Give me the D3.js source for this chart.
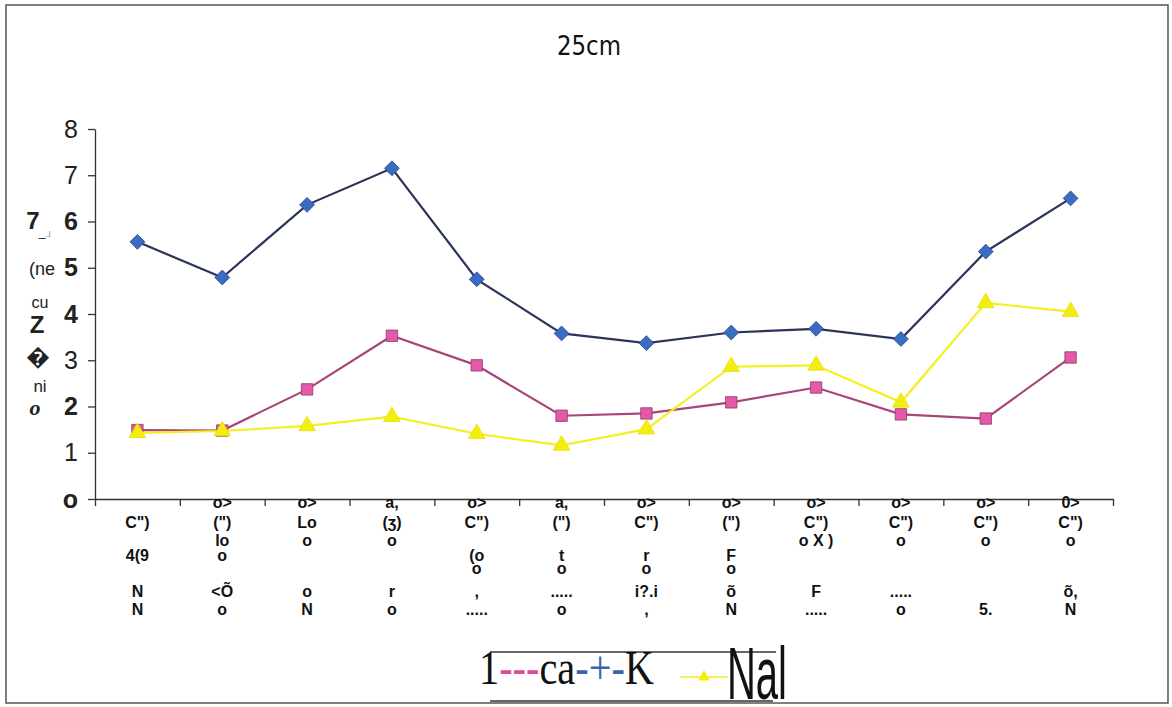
<!DOCTYPE html>
<html><head><meta charset="utf-8">
<script src="https://cdn.jsdelivr.net/npm/d3@7"></script>
<style>body{margin:0;background:#fff}svg{display:block}</style>
</head><body>
<svg id="c" width="1172" height="707"></svg>
<script>
const title = "25cm";
const categories = ["c1","c2","c3","c4","c5","c6","c7","c8","c9","c10","c11","c12"];
const xLabelRows = [
  ["", "C\")", "", "4(9", "", "N", "N"],
  ["o>", "(\")", "lo", "o", "", "<Õ", "o"],
  ["o>", "Lo", "o", "", "", "o", "N"],
  ["a,", "(ʒ)", "o", "", "", "r", "o"],
  ["o>", "C\")", "", "(o", "o", ",", "....."],
  ["a,", "(\")", "", "t", "o", ".....", "o"],
  ["o>", "C\")", "", "r", "o", "i?.i", ","],
  ["o>", "(\")", "", "F", "o", "õ", "N"],
  ["o>", "C\")", "o X )", "", "", "F", "....."],
  ["o>", "C\")", "o", "", "", ".....", "o"],
  ["o>", "C\")", "o", "", "", "", "5."],
  ["0>", "C\")", "o", "", "", "õ,", "N"]
];
const yTicks = [0,1,2,3,4,5,6,7,8];
const yTickLabels = ["o","1","2","3","4","5","6","7","8"];
const yLabelBits = ["7","_」","(ne","cu","Z","�","ni","o"];
const kValues  = [5.56,4.79,6.36,7.15,4.75,3.58,3.37,3.60,3.68,3.46,5.35,6.50];
const caValues = [1.49,1.48,2.37,3.53,2.89,1.80,1.85,2.09,2.41,1.83,1.74,3.06];
const naValues = [1.43,1.47,1.58,1.78,1.41,1.16,1.51,2.86,2.89,2.09,4.24,4.05];
const legendParts = ["1","---","ca","-+-","K"];
const legendLast = "Nal";

const svg = d3.select("#c");
svg.append("rect").attr("x",6).attr("y",5).attr("width",1162).attr("height",698)
  .attr("fill","#fff").attr("stroke","#555").attr("stroke-width",1.5);

const x0 = 95, x1 = 1113, yTop = 129, yBot = 499;
const x = d3.scaleBand().domain(categories).range([x0,x1]);
const xEdge = d3.scaleLinear().domain([0,categories.length]).range([x0,x1]);
const y = d3.scaleLinear().domain([0,8]).range([yBot,yTop]);

svg.append("text").attr("x",589).attr("y",55).attr("text-anchor","middle")
  .attr("font-family","DejaVu Sans Condensed, DejaVu Sans").attr("font-size",27)
  .attr("textLength",64).attr("lengthAdjust","spacingAndGlyphs").attr("fill","#111").text(title);

// axes
const gx = svg.append("g").attr("transform",`translate(0,${yBot})`)
  .call(d3.axisBottom(xEdge).tickValues(d3.range(0,categories.length+1)).tickSize(7).tickSizeOuter(0).tickFormat(""));
gx.select(".domain").attr("stroke","#333").attr("stroke-width",1.3);
gx.selectAll(".tick line").attr("stroke","#333").attr("stroke-width",1.3);

const gy = svg.append("g").attr("transform",`translate(${x0},0)`)
  .call(d3.axisLeft(y).tickValues(yTicks).tickSize(7).tickSizeOuter(0).tickFormat((d,i)=>yTickLabels[i]));
gy.select(".domain").attr("stroke","#333").attr("stroke-width",1.3);
gy.selectAll(".tick text").attr("x",-17).attr("font-family","Liberation Sans, Arial")
  .attr("font-size",25).attr("fill","#222")
  .attr("font-weight",(d)=> [0,2,4,5,6].includes(d) ? "bold" : "normal");
gy.selectAll(".tick line").attr("stroke","#333").attr("stroke-width",1.3);

// y label fragments
const yBitY = [229,236,275,308,333,365,392,415];
const yBitX = [33,48,42,40,37,38,40,35];
const yBitSize = [24,12,18,16,24,24,17,22];
svg.append("g").selectAll("text").data(yLabelBits).join("text")
  .attr("x",(d,i)=>yBitX[i]).attr("y",(d,i)=>yBitY[i]).attr("text-anchor","middle")
  .attr("font-family",(d,i)=> i===7 ? "Liberation Serif" : "Liberation Sans, Arial")
  .attr("font-style",(d,i)=> i===7 ? "italic":"normal")
  .attr("font-weight",(d,i)=> (i===0||i===4||i===7) ? "bold":"normal")
  .attr("font-size",(d,i)=>yBitSize[i]).attr("fill","#222").text(d=>d);

// x labels
const rowY = [508,528,546,561,574,597,615];
const gl = svg.append("g");
categories.forEach((c,ci)=>{
  xLabelRows[ci].forEach((t,ri)=>{
    if(!t) return;
    gl.append("text").attr("x",x(c)+x.bandwidth()/2).attr("y",rowY[ri]).attr("text-anchor","middle")
      .attr("font-family","Liberation Sans, Arial").attr("font-weight","bold")
      .attr("font-size",16).attr("fill","#111").text(t);
  });
});

// series
const cx = (d,i)=> x(categories[i]) + x.bandwidth()/2;
const line = d3.line().x(cx).y(d=>y(d));
const series = [
  {vals:caValues, line:"#a8457a", fill:"#e45aa8", stroke:"#8a3a66", shape:d3.symbolSquare, size:130, rot:0},
  {vals:naValues, line:"#f4f020", fill:"#f2ee10", stroke:"#e8e000", shape:d3.symbolTriangle, size:120, rot:0},
  {vals:kValues,  line:"#2a3558", fill:"#3b6cc4", stroke:"#2a4a8a", shape:d3.symbolSquare, size:110, rot:45}
];
series.forEach(s=>{
  svg.append("path").datum(s.vals).attr("d",line).attr("fill","none")
    .attr("stroke",s.line).attr("stroke-width",2.2);
  svg.append("g").selectAll("path").data(s.vals).join("path")
    .attr("transform",(d,i)=>`translate(${cx(d,i)},${y(d)}) rotate(${s.rot})`)
    .attr("d",d3.symbol().type(s.shape).size(s.size))
    .attr("fill",s.fill).attr("stroke",s.stroke).attr("stroke-width",0.8);
});

// legend
const lg = svg.append("g");
lg.append("line").attr("x1",490).attr("x2",776).attr("y1",652).attr("y2",652).attr("stroke","#333").attr("stroke-width",1.5);
lg.append("line").attr("x1",490).attr("x2",773).attr("y1",701).attr("y2",701).attr("stroke","#333").attr("stroke-width",1.5);
const partCol = ["#111","#e04a9a","#111","#3a64b0","#111"];
const lt = lg.append("text").attr("x",479).attr("y",684).attr("font-family","Liberation Serif, Times New Roman")
  .attr("font-size",48).attr("textLength",175).attr("lengthAdjust","spacingAndGlyphs");
legendParts.forEach((p,i)=> lt.append("tspan").attr("fill",partCol[i]).text(p));
lg.append("line").attr("x1",680).attr("x2",728).attr("y1",677).attr("y2",677).attr("stroke","#f4f060").attr("stroke-width",2);
lg.append("path").attr("transform","translate(704,677)").attr("d",d3.symbol().type(d3.symbolTriangle).size(60)).attr("fill","#f0f000");
lg.append("text").attr("transform","translate(727,699) scale(1,1.25)").attr("x",0).attr("y",0)
  .attr("font-family","Liberation Sans Narrow, Liberation Sans")
  .attr("font-size",60).attr("textLength",60).attr("lengthAdjust","spacingAndGlyphs").attr("fill","#111").text(legendLast);
</script>
</body></html>
